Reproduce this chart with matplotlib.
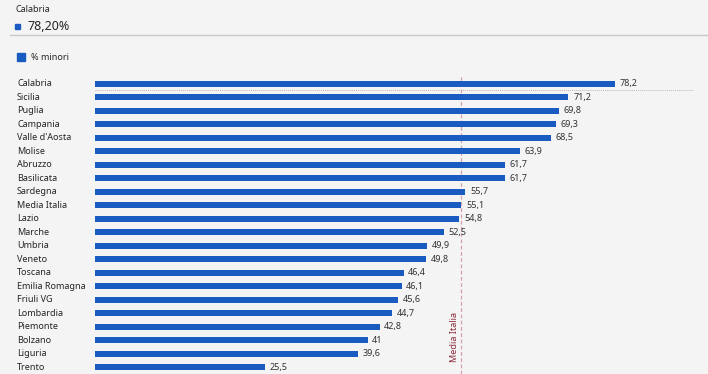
import matplotlib
matplotlib.use("Agg")
import matplotlib.pyplot as plt
from matplotlib.patches import Rectangle

regions = ["Calabria", "Sicilia", "Puglia", "Campania", "Valle d'Aosta", "Molise",
           "Abruzzo", "Basilicata", "Sardegna", "Media Italia", "Lazio", "Marche",
           "Umbria", "Veneto", "Toscana", "Emilia Romagna", "Friuli VG", "Lombardia",
           "Piemonte", "Bolzano", "Liguria", "Trento"]
values = [78.2, 71.2, 69.8, 69.3, 68.5, 63.9, 61.7, 61.7, 55.7, 55.1, 54.8, 52.5,
          49.9, 49.8, 46.4, 46.1, 45.6, 44.7, 42.8, 41, 39.6, 25.5]
media_italia = 55.1
series_name = "% minori"
selected = "Calabria"
selected_label = "78,20%"

plt.rcParams['font.family'] = ['Noto Sans', 'DejaVu Sans']

W, H = 708, 374
BG = "#f4f4f4"
BLUE = "#1a5bc2"
fig = plt.figure(figsize=(W/100, H/100), dpi=100, facecolor=BG)

n = len(regions)
row_top = 77
row_bot = 374
ax = fig.add_axes([95/W, 0, (W-95)/W, (row_bot-row_top)/H])
ax.set_facecolor(BG)
ax.set_xlim(0, (W-95)/6.65)
ax.set_ylim(n-0.5, -0.5)
ax.axis('off')

ys = list(range(n))
ax.barh(ys, values, height=0.44, color=BLUE, zorder=2)
for y, v, r in zip(ys, values, regions):
    s = ("%g" % v).replace(".", ",")
    ax.text(v + 0.7, y, s, va='center', ha='left', fontsize=6.5, color="#333333", zorder=3)
    fig.text(17/W, 1 - (row_top + (y+0.5)*(row_bot-row_top)/n)/H, r,
             va='center', ha='left', fontsize=6.5, color="#252525")

# mean line
ax.axvline(media_italia, color="#d4a0aa", lw=0.9, ls=(0, (3, 2)), zorder=1)
ax.text(media_italia - 1.1, 20.6, "Media Italia", rotation=90, va='bottom', ha='center',
        fontsize=6.5, color="#8b2a3a")

# hover dotted line below selected bar
ax.plot([0, (693-95)/6.65], [0.45, 0.45], color="#b8b8b8", lw=0.7, ls=(0, (1, 1)), zorder=1)

# header
fig.text(15/W, 1 - 9/H, selected, fontsize=6.5, color="#252525", va='center', ha='left')
fig.patches.append(Rectangle((15/W, 1 - 29/H), 5/W, 5/H, transform=fig.transFigure,
                             color=BLUE, figure=fig))
fig.text(27/W, 1 - 26/H, selected_label, fontsize=9, color="#252525", va='center', ha='left')
fig.add_artist(plt.Line2D([10/W, 1], [1 - 35/H, 1 - 35/H], color="#c8c8c8", lw=1,
                          transform=fig.transFigure))

# legend
fig.patches.append(Rectangle((17/W, 1 - 61/H), 8/W, 8/H, transform=fig.transFigure,
                             color=BLUE, figure=fig))
fig.text(31/W, 1 - 57/H, series_name, fontsize=6.5, color="#252525", va='center', ha='left')

fig.savefig("out.png", dpi=100, facecolor=BG)
